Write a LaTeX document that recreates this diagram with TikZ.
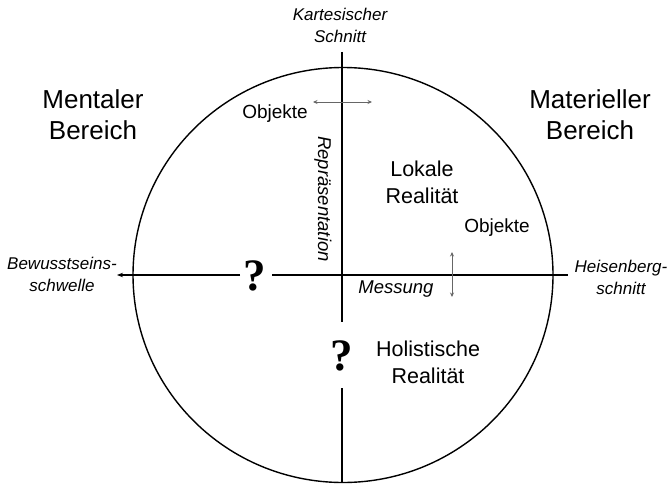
\documentclass[tikz,border=0pt]{standalone}
\usepackage{fontspec}
\setmainfont{Liberation Sans}
\newfontfamily\qfont{Liberation Serif}
\usetikzlibrary{arrows.meta}
\begin{document}
\begin{tikzpicture}[x=1pt,y=-1pt,
  lbl/.style={inner sep=0pt,align=center,text=black},
  itl/.style={lbl,font=\itshape\fontsize{17}{22}\selectfont},
  axis/.style={line width=1.4pt,black},
  darr/.style={black!60,line width=0.9pt,{Stealth[length=4.5pt,width=4pt]}-{Stealth[length=4.5pt,width=4pt]}},
  qmark/.style={lbl,font=\qfont\bfseries\fontsize{45}{45}\selectfont}]
\useasboundingbox (0,0) rectangle (671,484);
\draw[axis] (343,275) ellipse [x radius=210, y radius=207.5];
% vertical axis
\coordinate (vtop) at (342,52);
\coordinate (vgap1) at (342,322);
\coordinate (vgap2) at (342,388);
\coordinate (vbot) at (342,482);
\draw[axis] (vtop) -- (vgap1);
\draw[axis] (vgap2) -- (vbot);
% horizontal axis
\coordinate (hleft) at (117,275);
\coordinate (hq1) at (240,275);
\coordinate (hq2) at (272,275);
\coordinate (hright) at (568,275);
\draw[axis,-{Stealth[length=6pt,width=4.5pt]}] (hq1) -- (hleft);
\draw[axis] (hq2) -- (hright);
% question marks
\node[qmark] (q1) at (255,276) {?};
\node[qmark] (q2) at (342,356) {?};
% double arrows
\coordinate (ha) at (313,102);
\coordinate (hb) at (372,102);
\draw[darr] (ha) -- (hb);
\coordinate (va) at (452,252);
\coordinate (vb) at (452,297);
\draw[darr] (va) -- (vb);
% texts
\node[lbl,font=\fontsize{26}{31}\selectfont] (ment) at (93,115) {Mentaler\\Bereich};
\node[lbl,font=\fontsize{26}{31}\selectfont] (mat) at (590,115) {Materieller\\Bereich};
\node[itl] (kart) at (340,25) {Kartesischer\\Schnitt};
\node[itl] (heis) at (621,277) {Heisenberg-\\schnitt};
\node[itl] (bew) at (62,274) {Bewusstseins-\\schwelle};
\node[lbl,font=\fontsize{19}{22}\selectfont] (obj1) at (275,114) {Objekte};
\node[lbl,font=\fontsize{19}{22}\selectfont] (obj2) at (497,228) {Objekte};
\node[lbl,font=\itshape\fontsize{18.5}{22}\selectfont,rotate=-90] (rep) at (323,199) {Repräsentation};
\node[lbl,font=\itshape\fontsize{18.5}{22}\selectfont] (mess) at (396,289) {Messung};
\node[lbl,font=\fontsize{21.5}{27}\selectfont] (lok) at (422,182) {Lokale\\Realität};
\node[lbl,font=\fontsize{21.5}{27}\selectfont] (hol) at (428,362) {Holistische\\Realität};
\end{tikzpicture}
\end{document}
